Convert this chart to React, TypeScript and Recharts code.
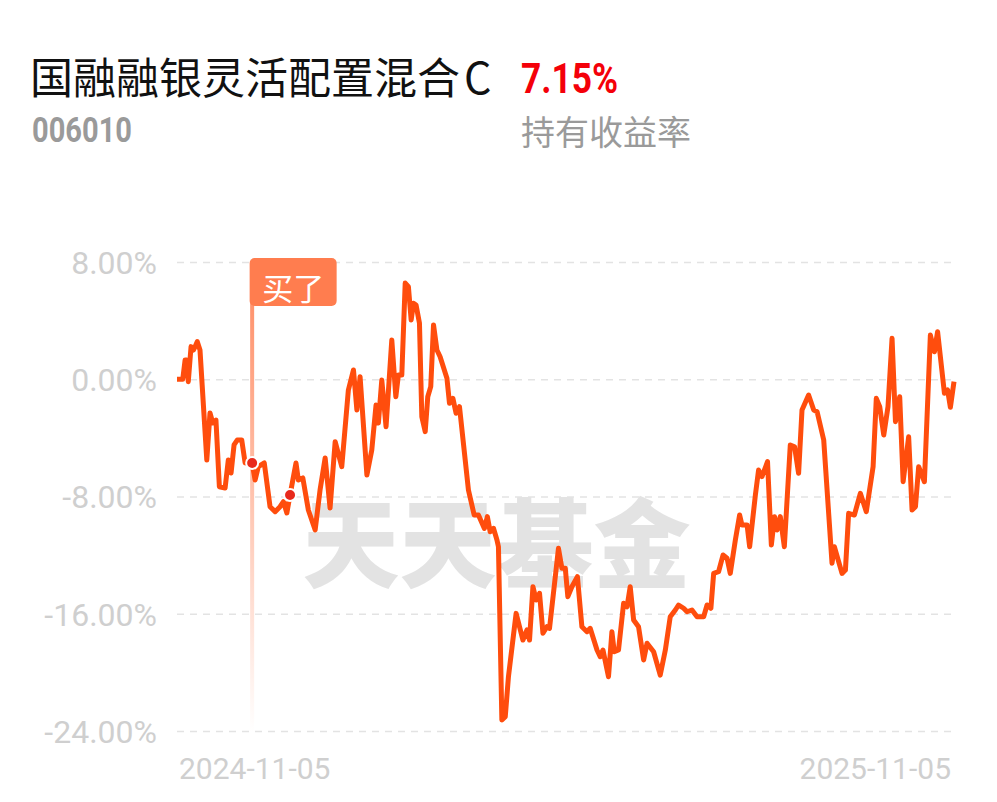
import React from 'react'
import { LineChart, Line, XAxis, YAxis, CartesianGrid, ReferenceLine, ReferenceDot } from 'recharts'

// days since 2024-11-05
const days = [
  0, 2.7, 3.8, 4.6, 5.3, 6.6, 7.7, 8.5, 9.5, 10.8,
  14.0, 15.5, 16.8, 18.3, 19.9, 22.6, 24.1, 25.4, 26.8, 28.3,
  30.4, 32.0, 35.3, 36.7, 38.2, 41.0, 43.7, 46.1, 48.4, 50.0,
  51.6, 53.1, 55.9, 57.0, 59.1, 61.7, 64.9, 67.2, 69.6, 71.9,
  74.3, 77.4, 80.5, 82.9, 84.5, 86.0, 89.2, 91.5, 93.5, 94.6,
  96.2, 98.2, 100.9, 102.8, 104.0, 105.6, 107.2, 108.7, 110.0, 111.1,
  112.3, 113.9, 115.0, 116.6, 117.8, 119.2, 120.5, 122.1, 123.6, 126.8,
  128.0, 129.6, 131.1, 132.7, 136.9, 139.6, 141.6, 144.4, 145.8, 147.1,
  148.7, 150.3, 151.0, 152.6, 154.2, 155.7, 159.3, 162.5, 164.4, 165.6,
  167.2, 168.7, 170.3, 171.9, 173.8, 175.0, 179.2, 180.8, 182.4, 183.6,
  185.5, 188.1, 190.2, 192.6, 194.1, 197.3, 198.8, 200.1, 202.7, 204.3,
  205.4, 207.4, 209.8, 211.4, 212.9, 214.5, 216.8, 219.2, 220.8, 223.9,
  227.0, 229.4, 231.7, 234.1, 235.6, 238.0, 239.6, 241.9, 244.3, 247.4,
  249.0, 250.8, 252.1, 254.4, 256.5, 258.4, 259.9, 262.3, 264.3, 265.4,
  267.8, 269.0, 271.7, 273.2, 274.8, 277.4, 279.2, 280.7, 281.9, 283.4,
  285.3, 288.1, 290.1, 292.0, 293.6, 296.7, 299.1, 300.7, 303.8, 307.7,
  308.8, 312.4, 314.0, 315.5, 318.2, 321.0, 323.8, 327.0, 328.5, 330.1,
  332.0, 334.0, 335.9, 337.5, 339.5, 341.1, 343.7, 345.3, 346.9, 348.4,
  351.1, 353.9, 355.8, 357.3, 360.5, 362.0, 363.3, 365,
]

// return in %
const returns = [
  0.03, 0.03, 1.35, 1.35, -0.13, 2.26, 2.03, 2.26, 2.60, 2.03,
  -5.48, -2.27, -2.95, -2.75, -7.30, -7.39, -5.48, -6.36, -4.45, -4.11,
  -4.11, -5.68, -5.68, -6.84, -5.93, -5.68, -8.66, -9.00, -8.66, -8.32,
  -9.09, -7.86, -5.68, -6.84, -6.70, -8.89, -10.25, -7.52, -5.34, -8.75,
  -4.23, -5.93, -0.70, 0.67, -2.06, 0.21, -6.50, -4.79, -1.72, -2.95,
  -0.02, -3.20, 2.71, -1.16, 0.32, 0.32, 6.60, 6.35, 4.08, 5.22,
  5.10, 3.85, -2.52, -3.54, -1.16, -0.47, 3.74, 2.03, 1.57, 0.10,
  -1.61, -1.27, -2.29, -1.84, -7.52, -9.23, -9.23, -10.14, -9.34, -10.37,
  -10.14, -10.93, -11.39, -23.22, -22.99, -20.26, -15.94, -17.76, -17.07, -17.76,
  -14.12, -15.03, -14.57, -17.30, -16.85, -16.96, -11.50, -12.86, -12.86, -14.80,
  -14.12, -13.44, -16.85, -17.19, -16.96, -18.44, -18.90, -18.44, -20.26, -17.19,
  -18.56, -18.44, -15.25, -15.49, -14.12, -16.39, -16.85, -19.12, -17.98, -18.56,
  -20.15, -18.44, -16.17, -15.71, -15.37, -15.59, -15.83, -15.71, -16.17, -16.17,
  -15.37, -15.59, -13.21, -13.10, -11.96, -12.18, -13.21, -10.93, -9.23, -9.91,
  -9.91, -11.39, -7.86, -6.16, -6.61, -5.59, -11.28, -9.34, -10.25, -9.34,
  -11.39, -4.45, -4.57, -6.38, -2.06, -1.04, -2.06, -2.18, -4.11, -12.52,
  -11.39, -13.21, -12.98, -9.11, -9.23, -7.75, -9.00, -5.93, -1.27, -1.84,
  -3.77, -1.84, 2.83, -2.86, -1.16, -6.96, -3.89, -8.89, -8.66, -5.93,
  -6.96, 3.05, 1.91, 3.28, -0.92, -0.70, -1.88, -0.13,
]

const yTicks = [8, 0, -8, -16, -24]
const xTicks = [0, 365]
const xLabels = ['2024-11-05', '2025-11-05']

const buyDay = 35.3
const buyReturn = -5.68
const markDay = 53.1
const markReturn = -7.86

const fundName = '国融融银灵活配置混合'
const fundClass = 'C'
const fundCode = '006010'
const holdReturn = '7.15%'
const holdLabel = '持有收益率'

const chartData = days.map((d, i) => ({ t: d, v: returns[i] }))

const DateTick = (props: any) => {
  const { x, y, payload } = props
  const first = payload.value === xTicks[0]
  const label = xLabels[xTicks.indexOf(payload.value)]
  return (
    <text x={first ? x + 2 : x - 3} y={y + 47.5} textAnchor={first ? 'start' : 'end'} fontSize={30} fill="#cfcfcf">
      {label}
    </text>
  )
}

const BuyTag = (props: any) => {
  const vb = props.viewBox || { x: 251.5, y: 262.5 }
  const left = vb.x - 2.5
  const top = vb.y - 4.5
  return (
    <g>
      <rect x={left} y={top} width={87} height={48} rx={5} fill="#ff7d4f" />
      <text x={left + 43.5} y={top + 42} textAnchor="middle" fontSize={31} fill="#fff" fontFamily="'Noto Sans CJK SC'">
        买了
      </text>
    </g>
  )
}

export default function App() {
  return (
    <div style={{ position: 'absolute', left: 0, top: 0, width: 997, height: 802, background: '#fff', fontFamily: "Roboto, 'Noto Sans CJK SC', sans-serif", overflow: 'hidden' }}>
      <svg width={0} height={0} style={{ position: 'absolute' }}>
        <defs>
          <linearGradient id="buyFade" gradientUnits="userSpaceOnUse" x1={0} y1={262} x2={0} y2={732}>
            <stop offset="0" stopColor="#ff7d4f" stopOpacity={0.9} />
            <stop offset="0.4" stopColor="#ff7d4f" stopOpacity={0.55} />
            <stop offset="1" stopColor="#ff7d4f" stopOpacity={0} />
          </linearGradient>
        </defs>
      </svg>

      <svg width={997} height={170} style={{ position: 'absolute', left: 0, top: 0 }}>
        <text x={30} y={94} fontSize={43} fill="#111" fontFamily="'Noto Sans CJK SC'">
          {fundName}
          <tspan dx={4}>{fundClass}</tspan>
        </text>
        <text x={521} y={93} fontSize={43} fontWeight="bold" fill="#f40009" textLength={97} lengthAdjust="spacingAndGlyphs">
          {holdReturn}
        </text>
        <text x={32} y={142} fontSize={35} fontWeight="bold" fill="#9a9a9a" textLength={100} lengthAdjust="spacingAndGlyphs">
          {fundCode}
        </text>
        <text x={521} y={145} fontSize={34} fill="#9a9a9a" fontFamily="'Noto Sans CJK SC'">
          {holdLabel}
        </text>
      </svg>

      {/* watermark */}
      <div style={{ position: 'absolute', left: -2, top: 489, width: 997, textAlign: 'center', fontSize: 97, lineHeight: '97px', fontWeight: 900, color: '#e3e3e3', fontFamily: "'Noto Sans CJK SC'" }}>
        天天基金
      </div>

      <div style={{ position: 'absolute', left: 0, top: 0 }}>
        <LineChart width={997} height={802} data={chartData} margin={{ top: 262.5, right: 43, bottom: 10.5, left: 7 }}>
          <CartesianGrid vertical={false} strokeDasharray="7 6" stroke="#e3e3e3" strokeWidth={1.5} />
          <XAxis
            type="number"
            dataKey="t"
            domain={[0, 365]}
            ticks={xTicks}
            axisLine={false}
            tickLine={false}
            tickSize={0}
            tickMargin={0}
            height={60}
            tick={<DateTick />}
          />
          <YAxis
            domain={[-24, 8]}
            ticks={yTicks}
            width={170}
            axisLine={false}
            tickLine={false}
            tickSize={0}
            tickMargin={20}
            tick={{ fontSize: 32, fill: '#cfcfcf' }}
            tickFormatter={(v: number) => `${v.toFixed(2)}%`}
          />
          <ReferenceLine x={buyDay} stroke="url(#buyFade)" strokeWidth={4} label={<BuyTag />} ifOverflow="visible" />
          <Line
            type="linear"
            dataKey="v"
            stroke="#ff4d0d"
            strokeWidth={5}
            strokeLinejoin="round"
            dot={false}
            activeDot={false}
            isAnimationActive={false}
          />
          <ReferenceDot x={buyDay} y={buyReturn} r={6} fill="#e8291c" stroke="#fff" strokeWidth={2} ifOverflow="visible" />
          <ReferenceDot x={markDay} y={markReturn} r={6} fill="#e8291c" stroke="#fff" strokeWidth={2} ifOverflow="visible" />
        </LineChart>
      </div>
    </div>
  )
}
